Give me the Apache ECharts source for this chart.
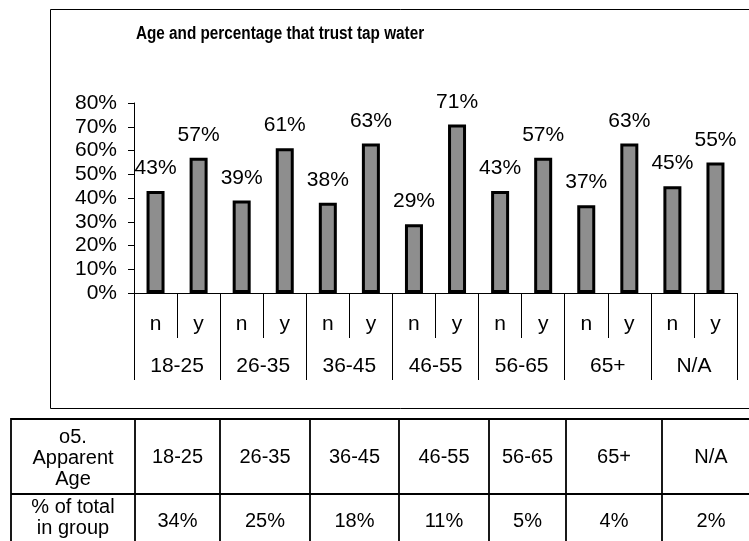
<!DOCTYPE html>
<html>
<head>
<meta charset="utf-8">
<script src="https://cdn.jsdelivr.net/npm/echarts@6/dist/echarts.min.js"></script>
<style>
html,body{margin:0;padding:0;background:#fff;}
#chart{width:749px;height:541px;}
</style>
</head>
<body>
<div id="chart"></div>
<script>
// ---- data ----
const titleText = 'Age and percentage that trust tap water';
const groups = ['18-25', '26-35', '36-45', '46-55', '56-65', '65+', 'N/A'];
const answers = ['n', 'y'];
const trustPct = [43, 57, 39, 61, 38, 63, 29, 71, 43, 57, 37, 63, 45, 55];
const yMin = 0, yMax = 80, yStep = 10;
const tableRowLabels = ['o5.\nApparent\nAge', '% of total\nin group'];
const shareOfTotal = [34, 25, 18, 11, 5, 4, 2];

// ---- chart ----
const font = "'Liberation Sans',Arial,sans-serif";
const cats = [];
groups.forEach(g => answers.forEach(a => cats.push(a)));

const chart = echarts.init(document.getElementById('chart'));

// table geometry
const colX = [11, 135, 220, 310, 399, 489, 566, 662, 760];
const rowY = [419, 494, 570];
const g = [];
// chart box
g.push({type:'rect', shape:{x:50.5, y:9.5, width:720, height:399}, style:{fill:'none', stroke:'#000', lineWidth:1}, z:0});
// title
g.push({type:'text', x:280, y:34, scaleX:0.85, style:{text:titleText, font:"bold 18px " + font, fill:'#000', align:'center', verticalAlign:'middle'}});
// table lines
g.push({type:'rect', shape:{x:colX[0], y:rowY[0], width:colX[colX.length-1]-colX[0], height:rowY[2]-rowY[0]}, style:{fill:'none', stroke:'#000', lineWidth:1.8}});
g.push({type:'line', shape:{x1:colX[0], y1:rowY[1], x2:colX[colX.length-1], y2:rowY[1]}, style:{stroke:'#000', lineWidth:1.8}});
for (let i = 1; i < colX.length - 1; i++) {
  g.push({type:'line', shape:{x1:colX[i], y1:rowY[0], x2:colX[i], y2:rowY[2]}, style:{stroke:'#000', lineWidth:1.8}});
}
// table texts
const rowCenters = [458, 518];
g.push({type:'text', x:(colX[0]+colX[1])/2, y:rowCenters[0], style:{text:tableRowLabels[0], font:"20px " + font, lineHeight:21, fill:'#000', align:'center', verticalAlign:'middle'}});
g.push({type:'text', x:(colX[0]+colX[1])/2, y:rowCenters[1], style:{text:tableRowLabels[1], font:"20px " + font, lineHeight:21, fill:'#000', align:'center', verticalAlign:'middle'}});
groups.forEach((grp, i) => {
  const cx = (colX[i+1] + colX[i+2]) / 2;
  g.push({type:'text', x:cx, y:457, style:{text:grp, font:"20px " + font, fill:'#000', align:'center', verticalAlign:'middle'}});
  g.push({type:'text', x:cx, y:521, style:{text:shareOfTotal[i] + '%', font:"20px " + font, fill:'#000', align:'center', verticalAlign:'middle'}});
});

const option = {
  animation: false,
  backgroundColor: '#fff',
  grid: {left: 134, right: 12, top: 103, bottom: 248, containLabel: false},
  xAxis: [{
    type: 'category', data: cats, position: 'bottom',
    axisLine: {show: true, lineStyle: {color: '#000', width: 1}},
    axisTick: {show: true, interval: 0, length: 45, lineStyle: {color: '#000', width: 1}},
    axisLabel: {interval: 0, margin: 21, fontSize: 21, color: '#000', fontFamily: font}
  }, {
    type: 'category', data: groups, position: 'bottom', offset: 0,
    axisLine: {show: false},
    axisTick: {show: true, interval: 0, length: 87, lineStyle: {color: '#000', width: 1}},
    axisLabel: {interval: 0, margin: 63, fontSize: 21, color: '#000', fontFamily: font}
  }],
  yAxis: {
    type: 'value', min: yMin, max: yMax, interval: yStep,
    axisLine: {show: true, lineStyle: {color: '#000', width: 1}},
    axisTick: {show: true, length: 6, lineStyle: {color: '#000'}},
    splitLine: {show: false},
    axisLabel: {formatter: '{value}%', margin: 17, fontSize: 21, color: '#000', fontFamily: font}
  },
  series: [{
    type: 'bar', xAxisIndex: 0, data: trustPct, barWidth: 18,
    itemStyle: {color: '#8e8e8e', borderColor: '#000', borderWidth: 3},
    label: {show: true, position: 'top', distance: 12, formatter: '{c}%', fontSize: 21, color: '#000', fontFamily: font}
  }],
  graphic: g
};
chart.setOption(option);
</script>
</body>
</html>
